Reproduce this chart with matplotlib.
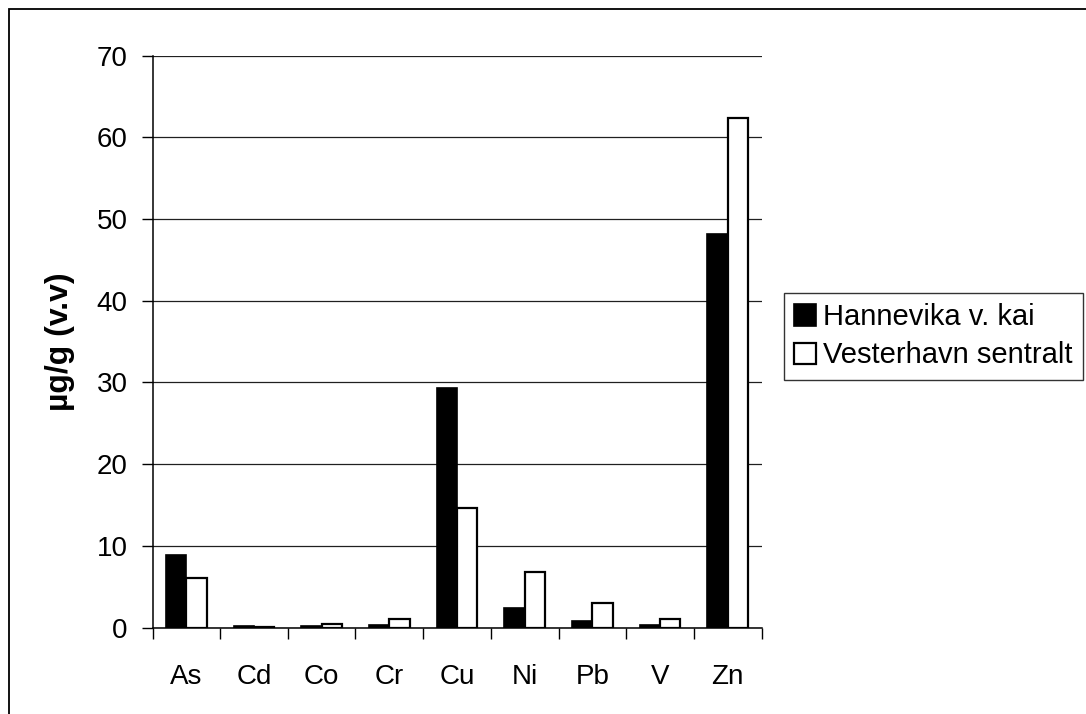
import matplotlib
matplotlib.use("Agg")
import matplotlib.pyplot as plt
import numpy as np
from matplotlib.patches import Rectangle

plt.rcParams['font.family'] = ['Liberation Sans', 'DejaVu Sans']

categories = ["As", "Cd", "Co", "Cr", "Cu", "Ni", "Pb", "V", "Zn"]
hannevika = [8.9, 0.2, 0.2, 0.25, 29.3, 2.35, 0.8, 0.3, 48.1]
vesterhavn = [6.0, 0.05, 0.45, 1.0, 14.6, 6.8, 3.0, 1.0, 62.4]
series_names = ["Hannevika v. kai", "Vesterhavn sentralt"]
yticks = [0, 10, 20, 30, 40, 50, 60, 70]

W, H = 1086, 714
fig = plt.figure(figsize=(W / 100, H / 100), dpi=100)
fig.patch.set_facecolor("white")

left, right, top, bottom = 152.5, 761.5, 55.5, 627.5
ax = fig.add_axes([left / W, 1 - bottom / H, (right - left) / W, (bottom - top) / H])

x = np.arange(len(categories))
bw = 0.3
ax.bar(x - bw / 2, hannevika, width=bw, color="black", edgecolor="black",
       linewidth=1.2, label=series_names[0], zorder=3)
ax.bar(x + bw / 2, vesterhavn, width=bw, color="white", edgecolor="black",
       linewidth=1.6, label=series_names[1], zorder=3)

ax.set_xlim(-0.5, len(categories) - 0.5)
ax.set_ylim(0, 70)
ax.set_yticks(yticks)
ax.set_yticklabels([str(v) for v in yticks], fontsize=20)
ax.yaxis.grid(True, color="#202020", linewidth=0.9, zorder=0)
ax.set_axisbelow(True)

ax.set_xticks(x)
ax.set_xticklabels(categories, fontsize=20)
ax.tick_params(axis="x", which="major", length=0, pad=26)
ax.set_xticks(np.arange(len(categories) + 1) - 0.5, minor=True)
ax.tick_params(axis="x", which="minor", length=8, width=1, direction="out", color="black")
ax.tick_params(axis="y", length=8, width=1, direction="out", pad=10, color="black")

for s in ["top", "right"]:
    ax.spines[s].set_visible(False)
for s in ["left", "bottom"]:
    ax.spines[s].set_linewidth(1.1)
    ax.spines[s].set_color("black")

ax.set_ylabel("µg/g (v.v)", fontsize=23, fontweight="bold")
ax.yaxis.set_label_coords((75 - left) / (right - left), 0.5)

leg = ax.legend(loc="upper left", bbox_to_anchor=(784 / W, 1 - 293 / H),
                bbox_transform=fig.transFigure, fontsize=21, frameon=True,
                fancybox=False, edgecolor="black", borderpad=0.35,
                labelspacing=0.35, handlelength=0.75, handleheight=0.75,
                handletextpad=0.25, borderaxespad=0)
leg.get_frame().set_linewidth(1.0)

frame = Rectangle((8.5 / W, -0.05), 1.2, 1 - 9 / H + 0.05, transform=fig.transFigure,
                  fill=False, edgecolor="black", linewidth=1.3)
fig.patches.append(frame)

fig.savefig("out.png", dpi=100)
